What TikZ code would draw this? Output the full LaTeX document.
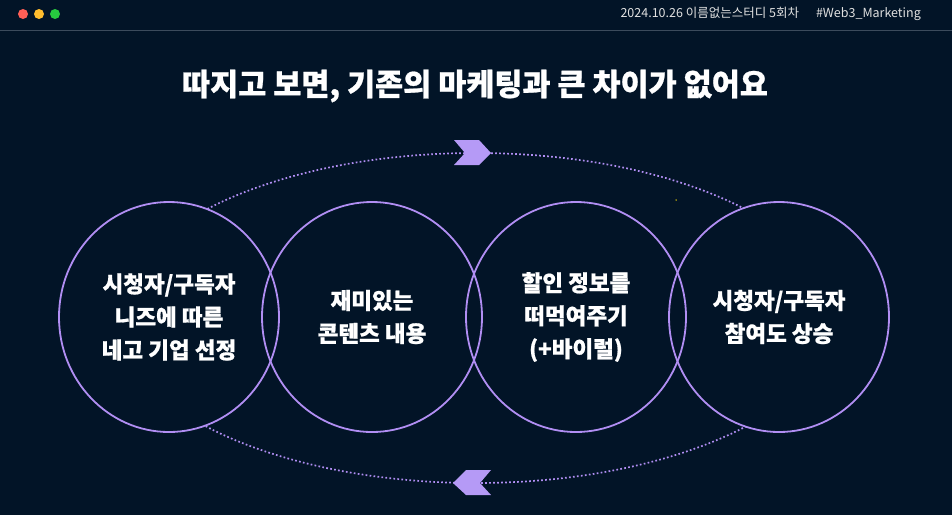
\documentclass[tikz,border=0pt]{standalone}
\usepackage{fontspec}
\setmainfont{Noto Sans CJK KR}
\newfontfamily\heavy{Noto Sans CJK KR}[BoldFeatures={FakeBold=0.8}]
\usetikzlibrary{positioning}
\definecolor{bgnavy}{HTML}{021427}
\definecolor{lav}{HTML}{B18EF3}
\definecolor{lavfill}{HTML}{B59AF6}
\definecolor{rulegray}{HTML}{3C4B5C}
\tikzset{
  stage/.style={shape=circle,minimum size=224pt,inner sep=0pt,
    text=white,align=center,font=\heavy\bfseries\fontsize{22.5}{33}\selectfont},
  ring/.style={draw=lav,line width=1.8pt},
  dotline/.style={draw=lav,line width=1.7pt,dash pattern=on 1.7pt off 2.3pt},
  chev/.style={fill=lavfill},
  light/.style={shape=circle,minimum size=10pt,inner sep=0pt}
}
\begin{document}
\begin{tikzpicture}[x=1pt,y=-1pt]
\useasboundingbox[fill=bgnavy] (0,0) rectangle (952,515);
% header
\node (r) at (23,14) [light,fill={rgb,255:red,255;green,95;blue,86}] {};
\node (y) at (39,14) [light,fill={rgb,255:red,255;green,189;blue,46}] {};
\node (g) at (55,14) [light,fill={rgb,255:red,39;green,201;blue,63}] {};
\node (tag) at (921,14) [anchor=east,text=white!88!black,font=\fontsize{12.5}{13}\selectfont,inner sep=0pt] {2024.10.26 이름없는스터디 5회차\hspace{17pt}\#Web3\_Marketing};
\draw[rulegray,line width=1pt] (0,30) -- (952,30);
\node (title) at (475,86) [text=white,font=\heavy\bfseries\fontsize{30.5}{34}\selectfont] {따지고 보면, 기존의 마케팅과 큰 차이가 없어요};
% loop
\coordinate (o) at (476,318);
\draw[dotline] (o) ellipse [x radius=358pt,y radius=165pt];
\coordinate (c1) at (169,317);
\coordinate (c2) at (372,317);
\coordinate (c3) at (576,317);
\coordinate (c4) at (779,317);
\foreach \c in {c1,c2,c3,c4}
  \fill[bgnavy] (\c) ellipse [x radius=110pt,y radius=115pt];
\foreach \c in {c1,c2,c3,c4}
  \draw[ring] (\c) ellipse [x radius=110pt,y radius=115pt];
\node (s1) at (c1) [stage] {시청자/구독자\\니즈에 따른\\네고 기업 선정};
\node (s2) at (c2) [stage] {재미있는\\콘텐츠 내용};
\node (s3) at (c3) [stage] {할인 정보를\\떠먹여주기\\(+바이럴)};
\node (s4) at (c4) [stage] {시청자/구독자\\참여도 상승};
\coordinate (up) at (472,153);
\coordinate (dn) at (472,483);
\fill[chev] ([shift={(-18,-13)}]up) -- ++(25,0) -- ++(12,13) -- ++(-12,12) -- ++(-25,0) -- ++(11,-12) -- cycle;
\fill[chev] ([shift={(-6,-13)}]dn) -- ++(25,0) -- ++(-11,13) -- ++(11,12) -- ++(-25,0) -- ++(-13,-12) -- cycle;
\node (spark) at (676,200) [shape=circle,minimum size=1.5pt,inner sep=0pt,fill=yellow!80!orange] {};
\end{tikzpicture}
\end{document}
